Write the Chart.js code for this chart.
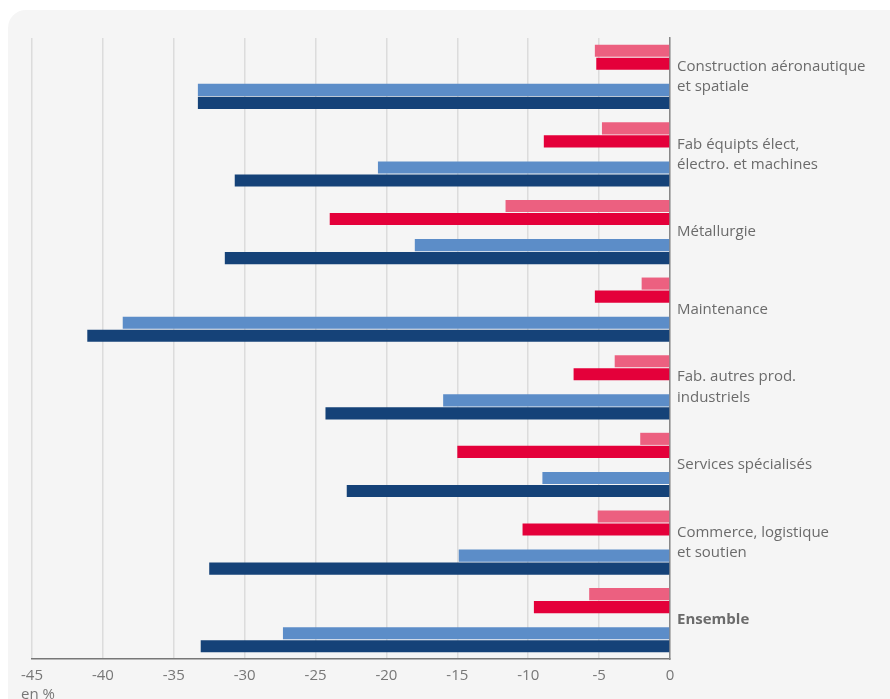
<!DOCTYPE html>
<html lang="fr">
<head>
<meta charset="utf-8">
<title>Evolution par secteur</title>
<script src="https://cdn.jsdelivr.net/npm/chart.js@4.4.1/dist/chart.umd.min.js"></script>
<style>
  body { margin: 0; background: #fff; font-family: "Open Sans", sans-serif; }
  .card {
    position: absolute; left: 8px; top: 10px; width: 900px; height: 720px;
    background: #f5f5f5; border-radius: 18px;
  }
  .wrap { position: absolute; left: 0; top: 0; width: 890px; height: 699px; }
  .unit {
    position: absolute; left: 21px; top: 683px;
    font-size: 15px; color: #777;
  }
</style>
</head>
<body>
<div class="card"></div>
<div class="wrap"><canvas id="chart"></canvas></div>
<div class="unit">en %</div>
<script>
// Categories (top to bottom)
const categories = [
    ['Construction aéronautique', 'et spatiale'],
    ['Fab équipts élect,', 'électro. et machines'],
    'Métallurgie',
    'Maintenance',
    ['Fab. autres prod.', 'industriels'],
    'Services spécialisés',
    ['Commerce, logistique', 'et soutien'],
    'Ensemble'
];

// Series values, in %
const seriesPink = [-5.3, -4.8, -11.6, -2.0, -3.9, -2.1, -5.1, -5.7];
const seriesRed = [-5.2, -8.9, -24.0, -5.3, -6.8, -15.0, -10.4, -9.6];
const seriesLightBlue = [-33.3, -20.6, -18.0, -38.6, -16.0, -9.0, -14.9, -27.3];
const seriesDarkBlue = [-33.3, -30.7, -31.4, -41.1, -24.3, -22.8, -32.5, -33.1];

// x axis
const xMin = -45;
const xMax = 0;
const xStep = 5;

const labelColor = '#6b6b6b';

function bars(label, data, color) {
    return {
        label: label,
        data: data,
        backgroundColor: color,
        borderWidth: 0,
        categoryPercentage: 0.84,
        barPercentage: 0.93
    };
}

new Chart(document.getElementById('chart'), {
    type: 'bar',
    data: {
        labels: categories,
        datasets: [
            bars('Série 1', seriesPink, '#ec6080'),
            bars('Série 2', seriesRed, '#e4003a'),
            // empty slot giving the gap between the red and blue pairs
            bars('', categories.map(() => null), 'rgba(0,0,0,0)'),
            bars('Série 3', seriesLightBlue, '#5c8dc8'),
            bars('Série 4', seriesDarkBlue, '#154278')
        ]
    },
    options: {
        indexAxis: 'y',
        responsive: true,
        maintainAspectRatio: false,
        animation: false,
        layout: {
            padding: { left: 32, top: 38, right: 0, bottom: 0 }
        },
        plugins: {
            legend: { display: false },
            tooltip: { enabled: false }
        },
        scales: {
            x: {
                min: xMin,
                max: xMax,
                afterFit: (scale) => { scale.height = 40; },
                ticks: {
                    stepSize: xStep,
                    padding: 8,
                    color: '#777',
                    font: { family: 'Open Sans', size: 15 }
                },
                grid: {
                    color: '#dcdcdc',
                    lineWidth: 1.5,
                    drawTicks: false
                },
                border: { display: true, color: '#777', width: 1.5 }
            },
            y: {
                position: 'right',
                afterFit: (scale) => { scale.width = 220; },
                ticks: {
                    padding: 7,
                    color: labelColor,
                    font: (ctx) => ({
                        family: 'Open Sans',
                        size: 15,
                        lineHeight: 1.35,
                        weight: ctx.index === categories.length - 1 ? 'bold' : 'normal'
                    })
                },
                grid: { display: false, drawTicks: false },
                border: { display: true, color: '#888', width: 1.5 }
            }
        }
    }
});
</script>
</body>
</html>
